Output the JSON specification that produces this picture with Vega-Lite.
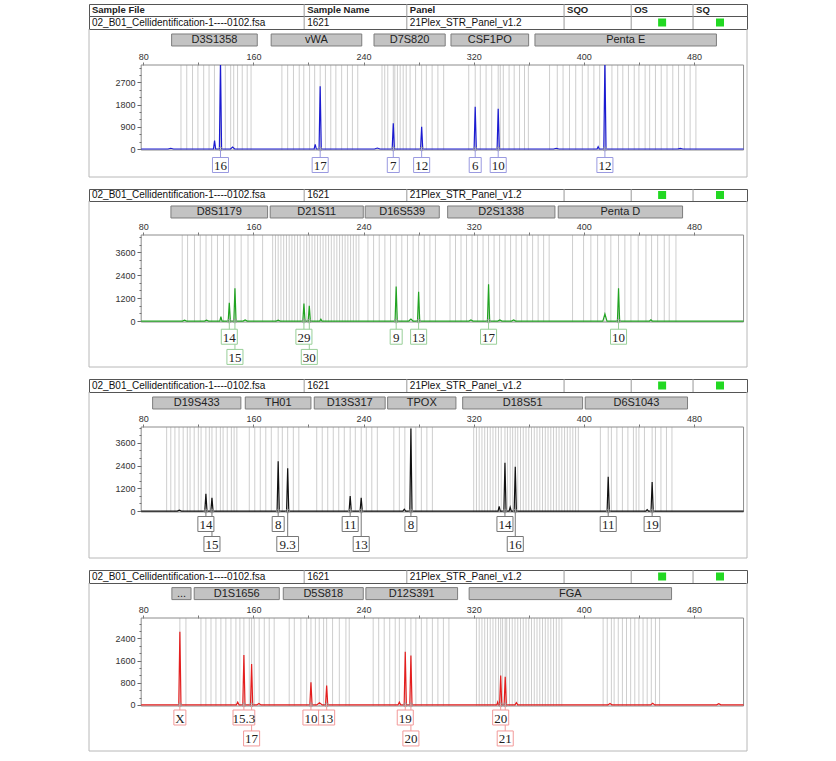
{
"$schema":"https://vega.github.io/schema/vega-lite/v6.json",
"background":"white",
"padding":{"left":88,"top":3,"right":5,"bottom":5},
"autosize":{"type":"pad"},
"config":{"font":"Liberation Sans","view":{"stroke":null}},
"datasets":{
"cols":[
{"col":"Sample File","start":0,"end":0.327,"val":"02_B01_Cellidentification-1----0102.fsa"},
{"col":"Sample Name","start":0.327,"end":0.483,"val":"1621"},
{"col":"Panel","start":0.483,"end":0.722,"val":"21Plex_STR_Panel_v1.2"},
{"col":"SQO","start":0.722,"end":0.824,"val":""},
{"col":"OS","start":0.824,"end":0.918,"val":"","flag":"pass"},
{"col":"SQ","start":0.918,"end":1,"val":"","flag":"pass"}],
"loci":[
{"p":1,"name":"D3S1358","start":100.6,"end":162.8},{"p":1,"name":"vWA","start":172.9,"end":238.7},{"p":1,"name":"D7S820","start":247.6,"end":299.3},{"p":1,"name":"CSF1PO","start":303.5,"end":359.9},{"p":1,"name":"Penta E","start":364.5,"end":496.3},
{"p":2,"name":"D8S1179","start":100.1,"end":170.3},{"p":2,"name":"D21S11","start":172.2,"end":239.8},{"p":2,"name":"D16S539","start":241.2,"end":295},{"p":2,"name":"D2S1338","start":301.1,"end":379},{"p":2,"name":"Penta D","start":381.4,"end":471.7},
{"p":3,"name":"D19S433","start":86.8,"end":150.9},{"p":3,"name":"TH01","start":154.1,"end":201.8},{"p":3,"name":"D13S317","start":204.2,"end":255.7},{"p":3,"name":"TPOX","start":257.5,"end":307.1},{"p":3,"name":"D18S51","start":312,"end":399.1},{"p":3,"name":"D6S1043","start":401,"end":475.3},
{"p":4,"name":"...","start":100.8,"end":114.7},{"p":4,"name":"D1S1656","start":117,"end":178.8},{"p":4,"name":"D5S818","start":181.7,"end":239.8},{"p":4,"name":"D12S391","start":241.7,"end":308.3},{"p":4,"name":"FGA","start":316.7,"end":463.7}],
"alleles":[
{"p":1,"a":"16","x":136.1,"row":1},{"p":1,"a":"17","x":208.5,"row":1},{"p":1,"a":"7","x":261.6,"row":1},{"p":1,"a":"12","x":282.2,"row":1},{"p":1,"a":"6","x":321.1,"row":1},{"p":1,"a":"10","x":337.8,"row":1},{"p":1,"a":"12","x":415.3,"row":1},
{"p":2,"a":"14","x":142.5,"row":1},{"p":2,"a":"15","x":146.6,"row":2},{"p":2,"a":"29","x":196.7,"row":1},{"p":2,"a":"30","x":200.6,"row":2},{"p":2,"a":"9","x":263.7,"row":1},{"p":2,"a":"13","x":280,"row":1},{"p":2,"a":"17","x":330.8,"row":1},{"p":2,"a":"10","x":425.2,"row":1},
{"p":3,"a":"14","x":125.5,"row":1},{"p":3,"a":"15","x":129.9,"row":2},{"p":3,"a":"8","x":178,"row":1},{"p":3,"a":"9.3","x":184.9,"row":2},{"p":3,"a":"11","x":230.3,"row":1},{"p":3,"a":"13","x":238.3,"row":2},{"p":3,"a":"8","x":274.4,"row":1},{"p":3,"a":"14","x":342.7,"row":1},{"p":3,"a":"16","x":350.2,"row":2},{"p":3,"a":"11","x":417.7,"row":1},{"p":3,"a":"19","x":449.6,"row":1},
{"p":4,"a":"X","x":106.6,"row":1},{"p":4,"a":"15.3","x":153.1,"row":1},{"p":4,"a":"17","x":158.7,"row":2},{"p":4,"a":"10","x":201.8,"row":1},{"p":4,"a":"13","x":213.2,"row":1},{"p":4,"a":"19","x":270.3,"row":1},{"p":4,"a":"20","x":274.4,"row":2},{"p":4,"a":"20","x":339.6,"row":1},{"p":4,"a":"21","x":342.9,"row":2}],
"bins":[
{"p":1,"x":107.4},{"p":1,"x":111.6},{"p":1,"x":115.8},{"p":1,"x":119.7},{"p":1,"x":123.9},{"p":1,"x":127.8},{"p":1,"x":131.7},{"p":1,"x":136.1},{"p":1,"x":139.6},{"p":1,"x":143.5},{"p":1,"x":145.7},{"p":1,"x":148.5},{"p":1,"x":151.9},{"p":1,"x":155.5},{"p":1,"x":158.3},
{"p":1,"x":180.7},{"p":1,"x":184.9},{"p":1,"x":189.1},{"p":1,"x":193.3},{"p":1,"x":196.6},{"p":1,"x":200.8},{"p":1,"x":204.5},{"p":1,"x":208.5},{"p":1,"x":212.3},{"p":1,"x":216.2},{"p":1,"x":219.9},{"p":1,"x":224.1},{"p":1,"x":228.3},{"p":1,"x":231.9},{"p":1,"x":235.8},
{"p":1,"x":253.4},{"p":1,"x":255.4},{"p":1,"x":257.6},{"p":1,"x":261.6},{"p":1,"x":262.7},{"p":1,"x":264.6},{"p":1,"x":266.6},{"p":1,"x":268.8},{"p":1,"x":271},{"p":1,"x":273.8},{"p":1,"x":277.8},{"p":1,"x":282.2},{"p":1,"x":285.6},{"p":1,"x":289.8},{"p":1,"x":294},{"p":1,"x":298.2},
{"p":1,"x":316.4},{"p":1,"x":321.1},{"p":1,"x":324.8},{"p":1,"x":329},{"p":1,"x":333.1},{"p":1,"x":337.8},{"p":1,"x":339.3},{"p":1,"x":341.5},{"p":1,"x":345.7},{"p":1,"x":349.4},{"p":1,"x":353.3},{"p":1,"x":356.9},{"p":1,"x":359.7},
{"p":1,"x":375.1},{"p":1,"x":380.7},{"p":1,"x":384.9},{"p":1,"x":389.6},{"p":1,"x":394.1},{"p":1,"x":398.9},{"p":1,"x":403.1},{"p":1,"x":407.3},{"p":1,"x":411.5},{"p":1,"x":415.3},{"p":1,"x":420.4},{"p":1,"x":424.6},{"p":1,"x":428.3},{"p":1,"x":432.4},{"p":1,"x":436.6},{"p":1,"x":440},{"p":1,"x":444.5},{"p":1,"x":447.8},{"p":1,"x":452},{"p":1,"x":456.2},{"p":1,"x":460.4},{"p":1,"x":464.6},{"p":1,"x":468.8},{"p":1,"x":473},{"p":1,"x":477.2},{"p":1,"x":481.4},
{"p":2,"x":108.3},{"p":2,"x":112.2},{"p":2,"x":117.2},{"p":2,"x":121.4},{"p":2,"x":125.6},{"p":2,"x":129.7},{"p":2,"x":133.9},{"p":2,"x":138.3},{"p":2,"x":142.5},{"p":2,"x":146.6},{"p":2,"x":151.1},{"p":2,"x":156.1},{"p":2,"x":160.3},{"p":2,"x":166.7},
{"p":2,"x":174},{"p":2,"x":176},{"p":2,"x":178},{"p":2,"x":180},{"p":2,"x":182},{"p":2,"x":184},{"p":2,"x":186},{"p":2,"x":188},{"p":2,"x":190},{"p":2,"x":192},{"p":2,"x":194},{"p":2,"x":196.7},{"p":2,"x":198.7},{"p":2,"x":200.6},{"p":2,"x":202.6},{"p":2,"x":204.6},{"p":2,"x":206.6},{"p":2,"x":208.6},{"p":2,"x":210.6},{"p":2,"x":212.6},{"p":2,"x":214.6},{"p":2,"x":216.6},{"p":2,"x":218.6},{"p":2,"x":220.6},{"p":2,"x":222.6},{"p":2,"x":224.6},{"p":2,"x":226.6},{"p":2,"x":228.6},{"p":2,"x":230.6},{"p":2,"x":232.6},{"p":2,"x":234.6},{"p":2,"x":236.6},
{"p":2,"x":243.2},{"p":2,"x":247.3},{"p":2,"x":251.4},{"p":2,"x":255.5},{"p":2,"x":259.6},{"p":2,"x":263.7},{"p":2,"x":267.8},{"p":2,"x":271.9},{"p":2,"x":276},{"p":2,"x":280},{"p":2,"x":284.1},{"p":2,"x":288.2},{"p":2,"x":292.2},
{"p":2,"x":302.8},{"p":2,"x":306.8},{"p":2,"x":310.8},{"p":2,"x":314.8},{"p":2,"x":318.8},{"p":2,"x":322.8},{"p":2,"x":326.8},{"p":2,"x":330.8},{"p":2,"x":334.8},{"p":2,"x":338.8},{"p":2,"x":342.8},{"p":2,"x":346.8},{"p":2,"x":350.8},{"p":2,"x":354.8},{"p":2,"x":358.8},{"p":2,"x":362.8},{"p":2,"x":366.8},{"p":2,"x":370.8},{"p":2,"x":374.8},
{"p":2,"x":391.8},{"p":2,"x":399.8},{"p":2,"x":405.1},{"p":2,"x":410},{"p":2,"x":415.3},{"p":2,"x":419.6},{"p":2,"x":425.2},{"p":2,"x":429.8},{"p":2,"x":434.2},{"p":2,"x":439.5},{"p":2,"x":445.1},{"p":2,"x":449.2},{"p":2,"x":453.6},{"p":2,"x":458.4},{"p":2,"x":462},{"p":2,"x":466.9},
{"p":3,"x":97},{"p":3,"x":100},{"p":3,"x":103},{"p":3,"x":106},{"p":3,"x":109},{"p":3,"x":112},{"p":3,"x":114},{"p":3,"x":117},{"p":3,"x":120},{"p":3,"x":122},{"p":3,"x":125.5},{"p":3,"x":128},{"p":3,"x":129.9},{"p":3,"x":133},{"p":3,"x":136},{"p":3,"x":138},{"p":3,"x":141},{"p":3,"x":144},{"p":3,"x":146},{"p":3,"x":148},
{"p":3,"x":157},{"p":3,"x":161},{"p":3,"x":165},{"p":3,"x":169},{"p":3,"x":173},{"p":3,"x":178},{"p":3,"x":181},{"p":3,"x":184.9},{"p":3,"x":189},{"p":3,"x":193},
{"p":3,"x":206},{"p":3,"x":210},{"p":3,"x":214},{"p":3,"x":218},{"p":3,"x":222},{"p":3,"x":226},{"p":3,"x":230.3},{"p":3,"x":234},{"p":3,"x":238.3},{"p":3,"x":242},{"p":3,"x":246},{"p":3,"x":250},
{"p":3,"x":262},{"p":3,"x":266},{"p":3,"x":270},{"p":3,"x":274.4},{"p":3,"x":278},{"p":3,"x":282},{"p":3,"x":286},{"p":3,"x":290},
{"p":3,"x":320},{"p":3,"x":322},{"p":3,"x":324},{"p":3,"x":326},{"p":3,"x":328},{"p":3,"x":330},{"p":3,"x":332},{"p":3,"x":334},{"p":3,"x":336},{"p":3,"x":338},{"p":3,"x":340},{"p":3,"x":342.7},{"p":3,"x":344.5},{"p":3,"x":346.5},{"p":3,"x":348.3},{"p":3,"x":350.2},{"p":3,"x":352},{"p":3,"x":354},{"p":3,"x":356},{"p":3,"x":358},{"p":3,"x":360},{"p":3,"x":362},{"p":3,"x":364},{"p":3,"x":366},{"p":3,"x":368},{"p":3,"x":370},{"p":3,"x":372},{"p":3,"x":374},{"p":3,"x":376},{"p":3,"x":378},{"p":3,"x":380},{"p":3,"x":382},{"p":3,"x":384},{"p":3,"x":386},{"p":3,"x":388},{"p":3,"x":390},{"p":3,"x":392},{"p":3,"x":394},{"p":3,"x":396},
{"p":3,"x":412},{"p":3,"x":417.7},{"p":3,"x":420},{"p":3,"x":424},{"p":3,"x":428},{"p":3,"x":432},{"p":3,"x":436},{"p":3,"x":438},{"p":3,"x":440},{"p":3,"x":444},{"p":3,"x":449.6},{"p":3,"x":452},{"p":3,"x":456},{"p":3,"x":460},{"p":3,"x":464},
{"p":4,"x":106.6},{"p":4,"x":111},
{"p":4,"x":121.9},{"p":4,"x":125.5},{"p":4,"x":129.2},{"p":4,"x":132.8},{"p":4,"x":136.4},{"p":4,"x":140},{"p":4,"x":143.7},{"p":4,"x":147.3},{"p":4,"x":150.2},{"p":4,"x":153.1},{"p":4,"x":157},{"p":4,"x":158.7},{"p":4,"x":160.6},{"p":4,"x":164.2},{"p":4,"x":167.9},{"p":4,"x":171.5},{"p":4,"x":175.1},
{"p":4,"x":186},{"p":4,"x":189.7},{"p":4,"x":194.5},{"p":4,"x":198.7},{"p":4,"x":201.8},{"p":4,"x":205},{"p":4,"x":207.8},{"p":4,"x":211},{"p":4,"x":213.2},{"p":4,"x":217.5},{"p":4,"x":222.4},{"p":4,"x":227.2},{"p":4,"x":229.6},
{"p":4,"x":247},{"p":4,"x":251},{"p":4,"x":255},{"p":4,"x":259},{"p":4,"x":263},{"p":4,"x":266},{"p":4,"x":270.3},{"p":4,"x":274.4},{"p":4,"x":278},{"p":4,"x":282},{"p":4,"x":286},{"p":4,"x":290},{"p":4,"x":294},{"p":4,"x":298},{"p":4,"x":302},
{"p":4,"x":322},{"p":4,"x":324},{"p":4,"x":326},{"p":4,"x":328},{"p":4,"x":330},{"p":4,"x":332},{"p":4,"x":334},{"p":4,"x":336},{"p":4,"x":338},{"p":4,"x":339.6},{"p":4,"x":341},{"p":4,"x":342.9},{"p":4,"x":344},{"p":4,"x":346},{"p":4,"x":348},{"p":4,"x":350},{"p":4,"x":352},{"p":4,"x":354},{"p":4,"x":356},{"p":4,"x":358},{"p":4,"x":360},{"p":4,"x":362},{"p":4,"x":364},{"p":4,"x":366},{"p":4,"x":368},{"p":4,"x":370},{"p":4,"x":372},{"p":4,"x":374},{"p":4,"x":376},{"p":4,"x":378},{"p":4,"x":380},{"p":4,"x":382},{"p":4,"x":384},
{"p":4,"x":414},{"p":4,"x":417},{"p":4,"x":420},{"p":4,"x":422},{"p":4,"x":425},{"p":4,"x":428},{"p":4,"x":431},{"p":4,"x":434},{"p":4,"x":437},{"p":4,"x":440},{"p":4,"x":443},{"p":4,"x":446},{"p":4,"x":449},{"p":4,"x":452},{"p":4,"x":455}],
"trace":[
{"p":1,"x":78.5,"y":0},{"p":1,"x":98,"y":0},{"p":1,"x":100,"y":30},{"p":1,"x":102,"y":0},{"p":1,"x":131,"y":0},{"p":1,"x":131.8,"y":340},{"p":1,"x":132.6,"y":0},{"p":1,"x":135.3,"y":0},{"p":1,"x":136.1,"y":3600},{"p":1,"x":136.9,"y":0},{"p":1,"x":143.4,"y":0},{"p":1,"x":144.9,"y":80},{"p":1,"x":146.4,"y":0},{"p":1,"x":204.1,"y":0},{"p":1,"x":204.9,"y":190},{"p":1,"x":205.7,"y":0},{"p":1,"x":207.7,"y":0},{"p":1,"x":208.5,"y":2550},{"p":1,"x":209.3,"y":0},{"p":1,"x":248,"y":0},{"p":1,"x":250,"y":40},{"p":1,"x":252,"y":0},{"p":1,"x":260.8,"y":0},{"p":1,"x":261.6,"y":1040},{"p":1,"x":262.4,"y":0},{"p":1,"x":281.4,"y":0},{"p":1,"x":282.2,"y":900},{"p":1,"x":283,"y":0},{"p":1,"x":320.3,"y":0},{"p":1,"x":321.1,"y":1715},{"p":1,"x":321.9,"y":0},{"p":1,"x":337,"y":0},{"p":1,"x":337.8,"y":1635},{"p":1,"x":338.6,"y":0},{"p":1,"x":378,"y":0},{"p":1,"x":380,"y":30},{"p":1,"x":382,"y":0},{"p":1,"x":409.6,"y":0},{"p":1,"x":410.4,"y":95},{"p":1,"x":411.2,"y":0},{"p":1,"x":414.5,"y":0},{"p":1,"x":415.3,"y":3600},{"p":1,"x":416.1,"y":0},{"p":1,"x":468,"y":0},{"p":1,"x":470,"y":25},{"p":1,"x":472,"y":0},{"p":1,"x":516,"y":0},
{"p":2,"x":78.5,"y":0},{"p":2,"x":108.5,"y":0},{"p":2,"x":110,"y":50},{"p":2,"x":111.5,"y":0},{"p":2,"x":124.5,"y":0},{"p":2,"x":126,"y":50},{"p":2,"x":127.5,"y":0},{"p":2,"x":135.6,"y":0},{"p":2,"x":136.4,"y":225},{"p":2,"x":137.2,"y":0},{"p":2,"x":141.7,"y":0},{"p":2,"x":142.5,"y":960},{"p":2,"x":143.3,"y":0},{"p":2,"x":145.8,"y":0},{"p":2,"x":146.6,"y":1710},{"p":2,"x":147.4,"y":0},{"p":2,"x":152.5,"y":0},{"p":2,"x":154,"y":60},{"p":2,"x":155.5,"y":0},{"p":2,"x":176.5,"y":0},{"p":2,"x":178,"y":50},{"p":2,"x":179.5,"y":0},{"p":2,"x":195.9,"y":0},{"p":2,"x":196.7,"y":910},{"p":2,"x":197.5,"y":0},{"p":2,"x":199.8,"y":0},{"p":2,"x":200.6,"y":800},{"p":2,"x":201.4,"y":0},{"p":2,"x":208.2,"y":0},{"p":2,"x":209,"y":100},{"p":2,"x":209.8,"y":0},{"p":2,"x":262.9,"y":0},{"p":2,"x":263.7,"y":1800},{"p":2,"x":264.5,"y":0},{"p":2,"x":272.9,"y":0},{"p":2,"x":274.4,"y":100},{"p":2,"x":275.9,"y":0},{"p":2,"x":279.2,"y":0},{"p":2,"x":280,"y":1535},{"p":2,"x":280.8,"y":0},{"p":2,"x":316.5,"y":0},{"p":2,"x":318,"y":60},{"p":2,"x":319.5,"y":0},{"p":2,"x":330,"y":0},{"p":2,"x":330.8,"y":1920},{"p":2,"x":331.6,"y":0},{"p":2,"x":337.5,"y":0},{"p":2,"x":339,"y":60},{"p":2,"x":340.5,"y":0},{"p":2,"x":347.5,"y":0},{"p":2,"x":349,"y":60},{"p":2,"x":350.5,"y":0},{"p":2,"x":413.8,"y":0},{"p":2,"x":415.3,"y":370},{"p":2,"x":416.8,"y":0},{"p":2,"x":424.4,"y":0},{"p":2,"x":425.2,"y":1710},{"p":2,"x":426,"y":0},{"p":2,"x":447.7,"y":0},{"p":2,"x":448.7,"y":60},{"p":2,"x":449.7,"y":0},{"p":2,"x":516,"y":0},
{"p":3,"x":78.5,"y":0},{"p":3,"x":104.7,"y":0},{"p":3,"x":106.2,"y":50},{"p":3,"x":107.7,"y":0},{"p":3,"x":124.7,"y":0},{"p":3,"x":125.5,"y":915},{"p":3,"x":126.3,"y":0},{"p":3,"x":129.1,"y":0},{"p":3,"x":129.9,"y":705},{"p":3,"x":130.7,"y":0},{"p":3,"x":177.2,"y":0},{"p":3,"x":178,"y":2630},{"p":3,"x":178.8,"y":0},{"p":3,"x":184.1,"y":0},{"p":3,"x":184.9,"y":2250},{"p":3,"x":185.7,"y":0},{"p":3,"x":229.5,"y":0},{"p":3,"x":230.3,"y":790},{"p":3,"x":231.1,"y":0},{"p":3,"x":237.5,"y":0},{"p":3,"x":238.3,"y":705},{"p":3,"x":239.1,"y":0},{"p":3,"x":268.6,"y":0},{"p":3,"x":269.6,"y":100},{"p":3,"x":270.6,"y":0},{"p":3,"x":273.6,"y":0},{"p":3,"x":274.4,"y":4350},{"p":3,"x":275.2,"y":0},{"p":3,"x":337.7,"y":0},{"p":3,"x":338.5,"y":250},{"p":3,"x":339.3,"y":0},{"p":3,"x":341.9,"y":0},{"p":3,"x":342.7,"y":2550},{"p":3,"x":343.5,"y":0},{"p":3,"x":345.7,"y":0},{"p":3,"x":346.5,"y":200},{"p":3,"x":347.3,"y":0},{"p":3,"x":349.4,"y":0},{"p":3,"x":350.2,"y":2340},{"p":3,"x":351,"y":0},{"p":3,"x":416.9,"y":0},{"p":3,"x":417.7,"y":1810},{"p":3,"x":418.5,"y":0},{"p":3,"x":445,"y":0},{"p":3,"x":446,"y":80},{"p":3,"x":447,"y":0},{"p":3,"x":448.8,"y":0},{"p":3,"x":449.6,"y":1530},{"p":3,"x":450.4,"y":0},{"p":3,"x":516,"y":0},
{"p":4,"x":78.5,"y":0},{"p":4,"x":105.8,"y":0},{"p":4,"x":106.6,"y":2640},{"p":4,"x":107.4,"y":0},{"p":4,"x":147.6,"y":0},{"p":4,"x":148.6,"y":100},{"p":4,"x":149.6,"y":0},{"p":4,"x":152.3,"y":0},{"p":4,"x":153.1,"y":1800},{"p":4,"x":153.9,"y":0},{"p":4,"x":157.9,"y":0},{"p":4,"x":158.7,"y":1480},{"p":4,"x":159.5,"y":0},{"p":4,"x":162.5,"y":0},{"p":4,"x":164,"y":50},{"p":4,"x":165.5,"y":0},{"p":4,"x":201,"y":0},{"p":4,"x":201.8,"y":815},{"p":4,"x":202.6,"y":0},{"p":4,"x":206,"y":0},{"p":4,"x":208,"y":80},{"p":4,"x":210,"y":0},{"p":4,"x":212.4,"y":0},{"p":4,"x":213.2,"y":700},{"p":4,"x":214,"y":0},{"p":4,"x":265,"y":0},{"p":4,"x":266,"y":100},{"p":4,"x":267,"y":0},{"p":4,"x":269.5,"y":0},{"p":4,"x":270.3,"y":1920},{"p":4,"x":271.1,"y":0},{"p":4,"x":273.6,"y":0},{"p":4,"x":274.4,"y":1780},{"p":4,"x":275.2,"y":0},{"p":4,"x":336.8,"y":0},{"p":4,"x":337.4,"y":100},{"p":4,"x":338,"y":0},{"p":4,"x":338.8,"y":0},{"p":4,"x":339.6,"y":1060},{"p":4,"x":340.4,"y":0},{"p":4,"x":342.1,"y":0},{"p":4,"x":342.9,"y":1020},{"p":4,"x":343.7,"y":0},{"p":4,"x":350,"y":0},{"p":4,"x":351,"y":80},{"p":4,"x":352,"y":0},{"p":4,"x":417.5,"y":0},{"p":4,"x":419,"y":50},{"p":4,"x":420.5,"y":0},{"p":4,"x":448.5,"y":0},{"p":4,"x":450,"y":60},{"p":4,"x":451.5,"y":0},{"p":4,"x":496.5,"y":0},{"p":4,"x":498,"y":40},{"p":4,"x":499.5,"y":0},{"p":4,"x":516,"y":0}]
},
"spacing":0,
"bounds":"flush",
"vconcat":[
 {"width":658,"height":12,"view":{"stroke":"#555"},"data":{"name":"cols"},"layer":[
  {"transform":[{"filter":"datum.start > 0"}],"mark":{"type":"rule","color":"#999"},"encoding":{"x":{"field":"start","type":"quantitative","scale":{"domain":[0,1],"nice":false,"zero":false},"axis":null}}},
  {"mark":{"type":"text","align":"left","dx":3,"fontSize":9.5,"fontWeight":"bold","color":"#222"},"encoding":{"x":{"field":"start","type":"quantitative","scale":{"domain":[0,1],"nice":false,"zero":false},"axis":null},"text":{"field":"col"}}}]},
 {"width":658,"height":13,"view":{"stroke":"#555"},"data":{"name":"cols"},"layer":[
  {"transform":[{"filter":"datum.start > 0"}],"mark":{"type":"rule","color":"#999"},"encoding":{"x":{"field":"start","type":"quantitative","scale":{"domain":[0,1],"nice":false,"zero":false},"axis":null}}},
  {"mark":{"type":"text","align":"left","dx":3,"fontSize":10,"color":"#111"},"encoding":{"x":{"field":"start","type":"quantitative","scale":{"domain":[0,1],"nice":false,"zero":false},"axis":null},"text":{"field":"val"}}},
  {"transform":[{"filter":"datum.flag == 'pass'"},{"fold":["start","end"],"as":["edge","pos"]}],"mark":{"type":"square","color":"#22d822","filled":true,"opacity":1,"size":64},"encoding":{"x":{"field":"pos","aggregate":"mean","type":"quantitative","scale":{"domain":[0,1],"nice":false,"zero":false},"axis":null},"detail":{"field":"col"}}}]},
 {"width":658,"height":36,"layer":[
  {"data":{"values":[{}]},"mark":{"type":"rule","color":"#b8b8b8"},"encoding":{"x":{"datum":40.6,"type":"quantitative","scale":{"domain":[40.6,518.5],"nice":false,"zero":false},"axis":null}}},
  {"data":{"values":[{}]},"mark":{"type":"rule","color":"#b8b8b8"},"encoding":{"x":{"datum":518.5,"type":"quantitative","axis":null}}},
  {"data":{"name":"loci"},"transform":[{"filter":"datum.p == 1"}],"mark":{"type":"bar","fill":"#c3c3c3","stroke":"#7d7d7d","strokeWidth":1},"encoding":{"x":{"field":"start","type":"quantitative","axis":null},"x2":{"field":"end"},"y":{"field":"p","type":"nominal","scale":{"type":"band","paddingInner":0,"paddingOuter":1.0,"align":0.208},"axis":null}}},
  {"data":{"name":"loci"},"transform":[{"filter":"datum.p == 1"},{"fold":["start","end"],"as":["edge","pos"]}],"mark":{"type":"text","fontSize":11,"color":"#222"},"encoding":{"x":{"field":"pos","aggregate":"mean","type":"quantitative","axis":null},"y":{"field":"p","type":"nominal","axis":null},"text":{"field":"name"}}}]},
 {"width":658,"height":85,"layer":[
  {"data":{"values":[{}]},"mark":{"type":"rule","color":"#b8b8b8"},"encoding":{"x":{"datum":40.6,"type":"quantitative","scale":{"domain":[40.6,518.5],"nice":false,"zero":false},"axis":{"orient":"top","values":[80,120,160,200,240,280,320,360,400,440,480],"labelExpr":"datum.value % 80 == 0 ? datum.label : ''","format":"d","domain":false,"grid":false,"tickSize":3,"tickColor":"#777","labelFontSize":9,"labelColor":"#333","labelPadding":1,"title":null,"labelFlush":false,"labelOverlap":false}}}},
  {"data":{"values":[{}]},"mark":{"type":"rule","color":"#b8b8b8"},"encoding":{"x":{"datum":518.5,"type":"quantitative","axis":{"orient":"top","values":[80,120,160,200,240,280,320,360,400,440,480],"labelExpr":"datum.value % 80 == 0 ? datum.label : ''","format":"d","domain":false,"grid":false,"tickSize":3,"tickColor":"#777","labelFontSize":9,"labelColor":"#333","labelPadding":1,"title":null,"labelFlush":false,"labelOverlap":false}}}},
  {"data":{"name":"bins"},"transform":[{"filter":"datum.p == 1"}],"mark":{"type":"rule","color":"#cecece","strokeWidth":1},"encoding":{"x":{"field":"x","type":"quantitative","axis":{"orient":"top","values":[80,120,160,200,240,280,320,360,400,440,480],"labelExpr":"datum.value % 80 == 0 ? datum.label : ''","format":"d","domain":false,"grid":false,"tickSize":3,"tickColor":"#777","labelFontSize":9,"labelColor":"#333","labelPadding":1,"title":null,"labelFlush":false,"labelOverlap":false}}}},
  {"data":{"name":"trace"},"transform":[{"filter":"datum.p == 1"}],"mark":{"type":"rect","fillOpacity":0,"stroke":"#8c8c8c","strokeWidth":1},"encoding":{"x":{"field":"x","aggregate":"min","type":"quantitative","axis":{"orient":"top","values":[80,120,160,200,240,280,320,360,400,440,480],"labelExpr":"datum.value % 80 == 0 ? datum.label : ''","format":"d","domain":false,"grid":false,"tickSize":3,"tickColor":"#777","labelFontSize":9,"labelColor":"#333","labelPadding":1,"title":null,"labelFlush":false,"labelOverlap":false}},"x2":{"field":"x","aggregate":"max"}}},
  {"data":{"name":"trace"},"transform":[{"filter":"datum.p == 1"}],"mark":{"type":"line","color":"#1b1bd1","strokeWidth":1.2,"clip":true},"encoding":{"x":{"field":"x","type":"quantitative","axis":{"orient":"top","values":[80,120,160,200,240,280,320,360,400,440,480],"labelExpr":"datum.value % 80 == 0 ? datum.label : ''","format":"d","domain":false,"grid":false,"tickSize":3,"tickColor":"#777","labelFontSize":9,"labelColor":"#333","labelPadding":1,"title":null,"labelFlush":false,"labelOverlap":false}},"y":{"field":"y","type":"quantitative","scale":{"domain":[-40,3410],"nice":false,"zero":false},"axis":{"orient":"left","offset":-52,"values":[0,300,600,900,1200,1500,1800,2100,2400,2700,3000,3300],"labelExpr":"datum.value % 900 == 0 ? datum.label : ''","format":"d","domain":false,"grid":false,"tickSize":{"condition":{"test":"datum.value % 900 == 0","value":4},"value":2},"tickColor":"#666","labelFontSize":9,"labelColor":"#333","labelPadding":2,"title":null,"labelOverlap":false,"labelFlush":false}}}},
  {"data":{"name":"alleles"},"transform":[{"filter":"datum.p == 1"}],"mark":{"type":"point","shape":"circle","size":14,"filled":false,"stroke":"#999","strokeWidth":0.8,"opacity":1},"encoding":{"x":{"field":"x","type":"quantitative","axis":{"orient":"top","values":[80,120,160,200,240,280,320,360,400,440,480],"labelExpr":"datum.value % 80 == 0 ? datum.label : ''","format":"d","domain":false,"grid":false,"tickSize":3,"tickColor":"#777","labelFontSize":9,"labelColor":"#333","labelPadding":1,"title":null,"labelFlush":false,"labelOverlap":false}},"y":{"datum":0,"type":"quantitative","axis":{"orient":"left","offset":-52,"values":[0,300,600,900,1200,1500,1800,2100,2400,2700,3000,3300],"labelExpr":"datum.value % 900 == 0 ? datum.label : ''","format":"d","domain":false,"grid":false,"tickSize":{"condition":{"test":"datum.value % 900 == 0","value":4},"value":2},"tickColor":"#666","labelFontSize":9,"labelColor":"#333","labelPadding":2,"title":null,"labelOverlap":false,"labelFlush":false}}}}]},
 {"width":658,"height":27,"layer":[
  {"data":{"values":[{}]},"mark":{"type":"rule","color":"#b8b8b8"},"encoding":{"x":{"datum":40.6,"type":"quantitative","scale":{"domain":[40.6,518.5],"nice":false,"zero":false},"axis":null}}},
  {"data":{"values":[{}]},"mark":{"type":"rule","color":"#b8b8b8"},"encoding":{"x":{"datum":518.5,"type":"quantitative","axis":null}}},
  {"data":{"values":[{}]},"mark":{"type":"rule","color":"#b8b8b8"},"encoding":{"y":{"datum":1.6,"type":"quantitative","scale":{"domain":[0.25,1.6],"reverse":true,"nice":false,"zero":false},"axis":null}}},
  {"data":{"name":"alleles"},"transform":[{"filter":"datum.p == 1"}],"mark":{"type":"rule","color":"#9a9ae0","strokeWidth":1},"encoding":{"x":{"field":"x","type":"quantitative","axis":null},"y":{"field":"row","type":"quantitative","axis":null},"y2":{"datum":0.25}}},
  {"data":{"name":"alleles"},"transform":[{"filter":"datum.p == 1"}],"mark":{"type":"point","filled":true,"fill":"white","stroke":"#9a9ae0","strokeWidth":1,"opacity":1,"size":225},"encoding":{"x":{"field":"x","type":"quantitative","axis":null},"y":{"field":"row","type":"quantitative","axis":null},"shape":{"condition":[{"test":"length(datum.a) >= 3","value":"M-1.45,-1H1.45V1H-1.45Z"},{"test":"length(datum.a) == 2","value":"M-1.07,-1H1.07V1H-1.07Z"}],"value":"M-0.8,-1H0.8V1H-0.8Z"}}},
  {"data":{"name":"alleles"},"transform":[{"filter":"datum.p == 1"}],"mark":{"type":"text","font":"Liberation Serif","fontSize":13,"color":"#222","dy":1},"encoding":{"x":{"field":"x","type":"quantitative","axis":null},"y":{"field":"row","type":"quantitative","axis":null},"text":{"field":"a"}}}]},
 {"width":658,"height":12,"data":{"values":[{}]},"mark":{"type":"text"},"encoding":{"text":{"value":""}}},
 {"width":658,"height":12,"view":{"stroke":"#555"},"data":{"name":"cols"},"layer":[
  {"transform":[{"filter":"datum.start > 0"}],"mark":{"type":"rule","color":"#999"},"encoding":{"x":{"field":"start","type":"quantitative","scale":{"domain":[0,1],"nice":false,"zero":false},"axis":null}}},
  {"mark":{"type":"text","align":"left","dx":3,"fontSize":10,"color":"#111"},"encoding":{"x":{"field":"start","type":"quantitative","scale":{"domain":[0,1],"nice":false,"zero":false},"axis":null},"text":{"field":"val"}}},
  {"transform":[{"filter":"datum.flag == 'pass'"},{"fold":["start","end"],"as":["edge","pos"]}],"mark":{"type":"square","color":"#22d822","filled":true,"opacity":1,"size":64},"encoding":{"x":{"field":"pos","aggregate":"mean","type":"quantitative","scale":{"domain":[0,1],"nice":false,"zero":false},"axis":null},"detail":{"field":"col"}}}]},
 {"width":658,"height":34,"layer":[
  {"data":{"values":[{}]},"mark":{"type":"rule","color":"#b8b8b8"},"encoding":{"x":{"datum":40.6,"type":"quantitative","scale":{"domain":[40.6,518.5],"nice":false,"zero":false},"axis":null}}},
  {"data":{"values":[{}]},"mark":{"type":"rule","color":"#b8b8b8"},"encoding":{"x":{"datum":518.5,"type":"quantitative","axis":null}}},
  {"data":{"name":"loci"},"transform":[{"filter":"datum.p == 2"}],"mark":{"type":"bar","fill":"#c3c3c3","stroke":"#7d7d7d","strokeWidth":1},"encoding":{"x":{"field":"start","type":"quantitative","axis":null},"x2":{"field":"end"},"y":{"field":"p","type":"nominal","scale":{"type":"band","paddingInner":0,"paddingOuter":0.917,"align":0.227},"axis":null}}},
  {"data":{"name":"loci"},"transform":[{"filter":"datum.p == 2"},{"fold":["start","end"],"as":["edge","pos"]}],"mark":{"type":"text","fontSize":11,"color":"#222"},"encoding":{"x":{"field":"pos","aggregate":"mean","type":"quantitative","axis":null},"y":{"field":"p","type":"nominal","axis":null},"text":{"field":"name"}}}]},
 {"width":658,"height":87,"layer":[
  {"data":{"values":[{}]},"mark":{"type":"rule","color":"#b8b8b8"},"encoding":{"x":{"datum":40.6,"type":"quantitative","scale":{"domain":[40.6,518.5],"nice":false,"zero":false},"axis":{"orient":"top","values":[80,120,160,200,240,280,320,360,400,440,480],"labelExpr":"datum.value % 80 == 0 ? datum.label : ''","format":"d","domain":false,"grid":false,"tickSize":3,"tickColor":"#777","labelFontSize":9,"labelColor":"#333","labelPadding":1,"title":null,"labelFlush":false,"labelOverlap":false}}}},
  {"data":{"values":[{}]},"mark":{"type":"rule","color":"#b8b8b8"},"encoding":{"x":{"datum":518.5,"type":"quantitative","axis":{"orient":"top","values":[80,120,160,200,240,280,320,360,400,440,480],"labelExpr":"datum.value % 80 == 0 ? datum.label : ''","format":"d","domain":false,"grid":false,"tickSize":3,"tickColor":"#777","labelFontSize":9,"labelColor":"#333","labelPadding":1,"title":null,"labelFlush":false,"labelOverlap":false}}}},
  {"data":{"name":"bins"},"transform":[{"filter":"datum.p == 2"}],"mark":{"type":"rule","color":"#cecece","strokeWidth":1},"encoding":{"x":{"field":"x","type":"quantitative","axis":{"orient":"top","values":[80,120,160,200,240,280,320,360,400,440,480],"labelExpr":"datum.value % 80 == 0 ? datum.label : ''","format":"d","domain":false,"grid":false,"tickSize":3,"tickColor":"#777","labelFontSize":9,"labelColor":"#333","labelPadding":1,"title":null,"labelFlush":false,"labelOverlap":false}}}},
  {"data":{"name":"trace"},"transform":[{"filter":"datum.p == 2"}],"mark":{"type":"rect","fillOpacity":0,"stroke":"#8c8c8c","strokeWidth":1},"encoding":{"x":{"field":"x","aggregate":"min","type":"quantitative","axis":{"orient":"top","values":[80,120,160,200,240,280,320,360,400,440,480],"labelExpr":"datum.value % 80 == 0 ? datum.label : ''","format":"d","domain":false,"grid":false,"tickSize":3,"tickColor":"#777","labelFontSize":9,"labelColor":"#333","labelPadding":1,"title":null,"labelFlush":false,"labelOverlap":false}},"x2":{"field":"x","aggregate":"max"}}},
  {"data":{"name":"trace"},"transform":[{"filter":"datum.p == 2"}],"mark":{"type":"line","color":"#22a322","strokeWidth":1.2,"clip":true},"encoding":{"x":{"field":"x","type":"quantitative","axis":{"orient":"top","values":[80,120,160,200,240,280,320,360,400,440,480],"labelExpr":"datum.value % 80 == 0 ? datum.label : ''","format":"d","domain":false,"grid":false,"tickSize":3,"tickColor":"#777","labelFontSize":9,"labelColor":"#333","labelPadding":1,"title":null,"labelFlush":false,"labelOverlap":false}},"y":{"field":"y","type":"quantitative","scale":{"domain":[-50,4500],"nice":false,"zero":false},"axis":{"orient":"left","offset":-52,"values":[0,400,800,1200,1600,2000,2400,2800,3200,3600,4000,4400],"labelExpr":"datum.value % 1200 == 0 ? datum.label : ''","format":"d","domain":false,"grid":false,"tickSize":{"condition":{"test":"datum.value % 1200 == 0","value":4},"value":2},"tickColor":"#666","labelFontSize":9,"labelColor":"#333","labelPadding":2,"title":null,"labelOverlap":false,"labelFlush":false}}}},
  {"data":{"name":"alleles"},"transform":[{"filter":"datum.p == 2"}],"mark":{"type":"point","shape":"circle","size":14,"filled":false,"stroke":"#999","strokeWidth":0.8,"opacity":1},"encoding":{"x":{"field":"x","type":"quantitative","axis":{"orient":"top","values":[80,120,160,200,240,280,320,360,400,440,480],"labelExpr":"datum.value % 80 == 0 ? datum.label : ''","format":"d","domain":false,"grid":false,"tickSize":3,"tickColor":"#777","labelFontSize":9,"labelColor":"#333","labelPadding":1,"title":null,"labelFlush":false,"labelOverlap":false}},"y":{"datum":0,"type":"quantitative","axis":{"orient":"left","offset":-52,"values":[0,400,800,1200,1600,2000,2400,2800,3200,3600,4000,4400],"labelExpr":"datum.value % 1200 == 0 ? datum.label : ''","format":"d","domain":false,"grid":false,"tickSize":{"condition":{"test":"datum.value % 1200 == 0","value":4},"value":2},"tickColor":"#666","labelFontSize":9,"labelColor":"#333","labelPadding":2,"title":null,"labelOverlap":false,"labelFlush":false}}}}]},
 {"width":658,"height":45,"layer":[
  {"data":{"values":[{}]},"mark":{"type":"rule","color":"#b8b8b8"},"encoding":{"x":{"datum":40.6,"type":"quantitative","scale":{"domain":[40.6,518.5],"nice":false,"zero":false},"axis":null}}},
  {"data":{"values":[{}]},"mark":{"type":"rule","color":"#b8b8b8"},"encoding":{"x":{"datum":518.5,"type":"quantitative","axis":null}}},
  {"data":{"values":[{}]},"mark":{"type":"rule","color":"#b8b8b8"},"encoding":{"y":{"datum":2.5,"type":"quantitative","scale":{"domain":[0.27,2.5],"reverse":true,"nice":false,"zero":false},"axis":null}}},
  {"data":{"name":"alleles"},"transform":[{"filter":"datum.p == 2"}],"mark":{"type":"rule","color":"#98cf98","strokeWidth":1},"encoding":{"x":{"field":"x","type":"quantitative","axis":null},"y":{"field":"row","type":"quantitative","axis":null},"y2":{"datum":0.27}}},
  {"data":{"name":"alleles"},"transform":[{"filter":"datum.p == 2"}],"mark":{"type":"point","filled":true,"fill":"white","stroke":"#98cf98","strokeWidth":1,"opacity":1,"size":225},"encoding":{"x":{"field":"x","type":"quantitative","axis":null},"y":{"field":"row","type":"quantitative","axis":null},"shape":{"condition":[{"test":"length(datum.a) >= 3","value":"M-1.45,-1H1.45V1H-1.45Z"},{"test":"length(datum.a) == 2","value":"M-1.07,-1H1.07V1H-1.07Z"}],"value":"M-0.8,-1H0.8V1H-0.8Z"}}},
  {"data":{"name":"alleles"},"transform":[{"filter":"datum.p == 2"}],"mark":{"type":"text","font":"Liberation Serif","fontSize":13,"color":"#222","dy":1},"encoding":{"x":{"field":"x","type":"quantitative","axis":null},"y":{"field":"row","type":"quantitative","axis":null},"text":{"field":"a"}}}]},
 {"width":658,"height":12,"data":{"values":[{}]},"mark":{"type":"text"},"encoding":{"text":{"value":""}}},
 {"width":658,"height":13,"view":{"stroke":"#555"},"data":{"name":"cols"},"layer":[
  {"transform":[{"filter":"datum.start > 0"}],"mark":{"type":"rule","color":"#999"},"encoding":{"x":{"field":"start","type":"quantitative","scale":{"domain":[0,1],"nice":false,"zero":false},"axis":null}}},
  {"mark":{"type":"text","align":"left","dx":3,"fontSize":10,"color":"#111"},"encoding":{"x":{"field":"start","type":"quantitative","scale":{"domain":[0,1],"nice":false,"zero":false},"axis":null},"text":{"field":"val"}}},
  {"transform":[{"filter":"datum.flag == 'pass'"},{"fold":["start","end"],"as":["edge","pos"]}],"mark":{"type":"square","color":"#22d822","filled":true,"opacity":1,"size":64},"encoding":{"x":{"field":"pos","aggregate":"mean","type":"quantitative","scale":{"domain":[0,1],"nice":false,"zero":false},"axis":null},"detail":{"field":"col"}}}]},
 {"width":658,"height":35,"layer":[
  {"data":{"values":[{}]},"mark":{"type":"rule","color":"#b8b8b8"},"encoding":{"x":{"datum":40.6,"type":"quantitative","scale":{"domain":[40.6,518.5],"nice":false,"zero":false},"axis":null}}},
  {"data":{"values":[{}]},"mark":{"type":"rule","color":"#b8b8b8"},"encoding":{"x":{"datum":518.5,"type":"quantitative","axis":null}}},
  {"data":{"name":"loci"},"transform":[{"filter":"datum.p == 3"}],"mark":{"type":"bar","fill":"#c3c3c3","stroke":"#7d7d7d","strokeWidth":1},"encoding":{"x":{"field":"start","type":"quantitative","axis":null},"x2":{"field":"end"},"y":{"field":"p","type":"nominal","scale":{"type":"band","paddingInner":0,"paddingOuter":0.958,"align":0.217},"axis":null}}},
  {"data":{"name":"loci"},"transform":[{"filter":"datum.p == 3"},{"fold":["start","end"],"as":["edge","pos"]}],"mark":{"type":"text","fontSize":11,"color":"#222"},"encoding":{"x":{"field":"pos","aggregate":"mean","type":"quantitative","axis":null},"y":{"field":"p","type":"nominal","axis":null},"text":{"field":"name"}}}]},
 {"width":658,"height":85,"layer":[
  {"data":{"values":[{}]},"mark":{"type":"rule","color":"#b8b8b8"},"encoding":{"x":{"datum":40.6,"type":"quantitative","scale":{"domain":[40.6,518.5],"nice":false,"zero":false},"axis":{"orient":"top","values":[80,120,160,200,240,280,320,360,400,440,480],"labelExpr":"datum.value % 80 == 0 ? datum.label : ''","format":"d","domain":false,"grid":false,"tickSize":3,"tickColor":"#777","labelFontSize":9,"labelColor":"#333","labelPadding":1,"title":null,"labelFlush":false,"labelOverlap":false}}}},
  {"data":{"values":[{}]},"mark":{"type":"rule","color":"#b8b8b8"},"encoding":{"x":{"datum":518.5,"type":"quantitative","axis":{"orient":"top","values":[80,120,160,200,240,280,320,360,400,440,480],"labelExpr":"datum.value % 80 == 0 ? datum.label : ''","format":"d","domain":false,"grid":false,"tickSize":3,"tickColor":"#777","labelFontSize":9,"labelColor":"#333","labelPadding":1,"title":null,"labelFlush":false,"labelOverlap":false}}}},
  {"data":{"name":"bins"},"transform":[{"filter":"datum.p == 3"}],"mark":{"type":"rule","color":"#cecece","strokeWidth":1},"encoding":{"x":{"field":"x","type":"quantitative","axis":{"orient":"top","values":[80,120,160,200,240,280,320,360,400,440,480],"labelExpr":"datum.value % 80 == 0 ? datum.label : ''","format":"d","domain":false,"grid":false,"tickSize":3,"tickColor":"#777","labelFontSize":9,"labelColor":"#333","labelPadding":1,"title":null,"labelFlush":false,"labelOverlap":false}}}},
  {"data":{"name":"trace"},"transform":[{"filter":"datum.p == 3"}],"mark":{"type":"rect","fillOpacity":0,"stroke":"#8c8c8c","strokeWidth":1},"encoding":{"x":{"field":"x","aggregate":"min","type":"quantitative","axis":{"orient":"top","values":[80,120,160,200,240,280,320,360,400,440,480],"labelExpr":"datum.value % 80 == 0 ? datum.label : ''","format":"d","domain":false,"grid":false,"tickSize":3,"tickColor":"#777","labelFontSize":9,"labelColor":"#333","labelPadding":1,"title":null,"labelFlush":false,"labelOverlap":false}},"x2":{"field":"x","aggregate":"max"}}},
  {"data":{"name":"trace"},"transform":[{"filter":"datum.p == 3"}],"mark":{"type":"line","color":"#111111","strokeWidth":1.2,"clip":true},"encoding":{"x":{"field":"x","type":"quantitative","axis":{"orient":"top","values":[80,120,160,200,240,280,320,360,400,440,480],"labelExpr":"datum.value % 80 == 0 ? datum.label : ''","format":"d","domain":false,"grid":false,"tickSize":3,"tickColor":"#777","labelFontSize":9,"labelColor":"#333","labelPadding":1,"title":null,"labelFlush":false,"labelOverlap":false}},"y":{"field":"y","type":"quantitative","scale":{"domain":[-50,4430],"nice":false,"zero":false},"axis":{"orient":"left","offset":-52,"values":[0,400,800,1200,1600,2000,2400,2800,3200,3600,4000,4400],"labelExpr":"datum.value % 1200 == 0 ? datum.label : ''","format":"d","domain":false,"grid":false,"tickSize":{"condition":{"test":"datum.value % 1200 == 0","value":4},"value":2},"tickColor":"#666","labelFontSize":9,"labelColor":"#333","labelPadding":2,"title":null,"labelOverlap":false,"labelFlush":false}}}},
  {"data":{"name":"alleles"},"transform":[{"filter":"datum.p == 3"}],"mark":{"type":"point","shape":"circle","size":14,"filled":false,"stroke":"#999","strokeWidth":0.8,"opacity":1},"encoding":{"x":{"field":"x","type":"quantitative","axis":{"orient":"top","values":[80,120,160,200,240,280,320,360,400,440,480],"labelExpr":"datum.value % 80 == 0 ? datum.label : ''","format":"d","domain":false,"grid":false,"tickSize":3,"tickColor":"#777","labelFontSize":9,"labelColor":"#333","labelPadding":1,"title":null,"labelFlush":false,"labelOverlap":false}},"y":{"datum":0,"type":"quantitative","axis":{"orient":"left","offset":-52,"values":[0,400,800,1200,1600,2000,2400,2800,3200,3600,4000,4400],"labelExpr":"datum.value % 1200 == 0 ? datum.label : ''","format":"d","domain":false,"grid":false,"tickSize":{"condition":{"test":"datum.value % 1200 == 0","value":4},"value":2},"tickColor":"#666","labelFontSize":9,"labelColor":"#333","labelPadding":2,"title":null,"labelOverlap":false,"labelFlush":false}}}}]},
 {"width":658,"height":46,"layer":[
  {"data":{"values":[{}]},"mark":{"type":"rule","color":"#b8b8b8"},"encoding":{"x":{"datum":40.6,"type":"quantitative","scale":{"domain":[40.6,518.5],"nice":false,"zero":false},"axis":null}}},
  {"data":{"values":[{}]},"mark":{"type":"rule","color":"#b8b8b8"},"encoding":{"x":{"datum":518.5,"type":"quantitative","axis":null}}},
  {"data":{"values":[{}]},"mark":{"type":"rule","color":"#b8b8b8"},"encoding":{"y":{"datum":2.7,"type":"quantitative","scale":{"domain":[0.4,2.7],"reverse":true,"nice":false,"zero":false},"axis":null}}},
  {"data":{"name":"alleles"},"transform":[{"filter":"datum.p == 3"}],"mark":{"type":"rule","color":"#777777","strokeWidth":1},"encoding":{"x":{"field":"x","type":"quantitative","axis":null},"y":{"field":"row","type":"quantitative","axis":null},"y2":{"datum":0.4}}},
  {"data":{"name":"alleles"},"transform":[{"filter":"datum.p == 3"}],"mark":{"type":"point","filled":true,"fill":"white","stroke":"#777777","strokeWidth":1,"opacity":1,"size":225},"encoding":{"x":{"field":"x","type":"quantitative","axis":null},"y":{"field":"row","type":"quantitative","axis":null},"shape":{"condition":[{"test":"length(datum.a) >= 3","value":"M-1.45,-1H1.45V1H-1.45Z"},{"test":"length(datum.a) == 2","value":"M-1.07,-1H1.07V1H-1.07Z"}],"value":"M-0.8,-1H0.8V1H-0.8Z"}}},
  {"data":{"name":"alleles"},"transform":[{"filter":"datum.p == 3"}],"mark":{"type":"text","font":"Liberation Serif","fontSize":13,"color":"#222","dy":1},"encoding":{"x":{"field":"x","type":"quantitative","axis":null},"y":{"field":"row","type":"quantitative","axis":null},"text":{"field":"a"}}}]},
 {"width":658,"height":12,"data":{"values":[{}]},"mark":{"type":"text"},"encoding":{"text":{"value":""}}},
 {"width":658,"height":13,"view":{"stroke":"#555"},"data":{"name":"cols"},"layer":[
  {"transform":[{"filter":"datum.start > 0"}],"mark":{"type":"rule","color":"#999"},"encoding":{"x":{"field":"start","type":"quantitative","scale":{"domain":[0,1],"nice":false,"zero":false},"axis":null}}},
  {"mark":{"type":"text","align":"left","dx":3,"fontSize":10,"color":"#111"},"encoding":{"x":{"field":"start","type":"quantitative","scale":{"domain":[0,1],"nice":false,"zero":false},"axis":null},"text":{"field":"val"}}},
  {"transform":[{"filter":"datum.flag == 'pass'"},{"fold":["start","end"],"as":["edge","pos"]}],"mark":{"type":"square","color":"#22d822","filled":true,"opacity":1,"size":64},"encoding":{"x":{"field":"pos","aggregate":"mean","type":"quantitative","scale":{"domain":[0,1],"nice":false,"zero":false},"axis":null},"detail":{"field":"col"}}}]},
 {"width":658,"height":35,"layer":[
  {"data":{"values":[{}]},"mark":{"type":"rule","color":"#b8b8b8"},"encoding":{"x":{"datum":40.6,"type":"quantitative","scale":{"domain":[40.6,518.5],"nice":false,"zero":false},"axis":null}}},
  {"data":{"values":[{}]},"mark":{"type":"rule","color":"#b8b8b8"},"encoding":{"x":{"datum":518.5,"type":"quantitative","axis":null}}},
  {"data":{"name":"loci"},"transform":[{"filter":"datum.p == 4"}],"mark":{"type":"bar","fill":"#c3c3c3","stroke":"#7d7d7d","strokeWidth":1},"encoding":{"x":{"field":"start","type":"quantitative","axis":null},"x2":{"field":"end"},"y":{"field":"p","type":"nominal","scale":{"type":"band","paddingInner":0,"paddingOuter":0.958,"align":0.2},"axis":null}}},
  {"data":{"name":"loci"},"transform":[{"filter":"datum.p == 4"},{"fold":["start","end"],"as":["edge","pos"]}],"mark":{"type":"text","fontSize":11,"color":"#222"},"encoding":{"x":{"field":"pos","aggregate":"mean","type":"quantitative","axis":null},"y":{"field":"p","type":"nominal","axis":null},"text":{"field":"name"}}}]},
 {"width":658,"height":88,"layer":[
  {"data":{"values":[{}]},"mark":{"type":"rule","color":"#b8b8b8"},"encoding":{"x":{"datum":40.6,"type":"quantitative","scale":{"domain":[40.6,518.5],"nice":false,"zero":false},"axis":{"orient":"top","values":[80,120,160,200,240,280,320,360,400,440,480],"labelExpr":"datum.value % 80 == 0 ? datum.label : ''","format":"d","domain":false,"grid":false,"tickSize":3,"tickColor":"#777","labelFontSize":9,"labelColor":"#333","labelPadding":1,"title":null,"labelFlush":false,"labelOverlap":false}}}},
  {"data":{"values":[{}]},"mark":{"type":"rule","color":"#b8b8b8"},"encoding":{"x":{"datum":518.5,"type":"quantitative","axis":{"orient":"top","values":[80,120,160,200,240,280,320,360,400,440,480],"labelExpr":"datum.value % 80 == 0 ? datum.label : ''","format":"d","domain":false,"grid":false,"tickSize":3,"tickColor":"#777","labelFontSize":9,"labelColor":"#333","labelPadding":1,"title":null,"labelFlush":false,"labelOverlap":false}}}},
  {"data":{"name":"bins"},"transform":[{"filter":"datum.p == 4"}],"mark":{"type":"rule","color":"#cecece","strokeWidth":1},"encoding":{"x":{"field":"x","type":"quantitative","axis":{"orient":"top","values":[80,120,160,200,240,280,320,360,400,440,480],"labelExpr":"datum.value % 80 == 0 ? datum.label : ''","format":"d","domain":false,"grid":false,"tickSize":3,"tickColor":"#777","labelFontSize":9,"labelColor":"#333","labelPadding":1,"title":null,"labelFlush":false,"labelOverlap":false}}}},
  {"data":{"name":"trace"},"transform":[{"filter":"datum.p == 4"}],"mark":{"type":"rect","fillOpacity":0,"stroke":"#8c8c8c","strokeWidth":1},"encoding":{"x":{"field":"x","aggregate":"min","type":"quantitative","axis":{"orient":"top","values":[80,120,160,200,240,280,320,360,400,440,480],"labelExpr":"datum.value % 80 == 0 ? datum.label : ''","format":"d","domain":false,"grid":false,"tickSize":3,"tickColor":"#777","labelFontSize":9,"labelColor":"#333","labelPadding":1,"title":null,"labelFlush":false,"labelOverlap":false}},"x2":{"field":"x","aggregate":"max"}}},
  {"data":{"name":"trace"},"transform":[{"filter":"datum.p == 4"}],"mark":{"type":"line","color":"#e41e1e","strokeWidth":1.2,"clip":true},"encoding":{"x":{"field":"x","type":"quantitative","axis":{"orient":"top","values":[80,120,160,200,240,280,320,360,400,440,480],"labelExpr":"datum.value % 80 == 0 ? datum.label : ''","format":"d","domain":false,"grid":false,"tickSize":3,"tickColor":"#777","labelFontSize":9,"labelColor":"#333","labelPadding":1,"title":null,"labelFlush":false,"labelOverlap":false}},"y":{"field":"y","type":"quantitative","scale":{"domain":[-40,3140],"nice":false,"zero":false},"axis":{"orient":"left","offset":-52,"values":[0,266.67,533.33,800,1066.67,1333.33,1600,1866.67,2133.33,2400,2666.67,2933.33],"labelExpr":"datum.value % 800 == 0 ? datum.label : ''","format":"d","domain":false,"grid":false,"tickSize":{"condition":{"test":"datum.value % 800 == 0","value":4},"value":2},"tickColor":"#666","labelFontSize":9,"labelColor":"#333","labelPadding":2,"title":null,"labelOverlap":false,"labelFlush":false}}}},
  {"data":{"name":"alleles"},"transform":[{"filter":"datum.p == 4"}],"mark":{"type":"point","shape":"circle","size":14,"filled":false,"stroke":"#999","strokeWidth":0.8,"opacity":1},"encoding":{"x":{"field":"x","type":"quantitative","axis":{"orient":"top","values":[80,120,160,200,240,280,320,360,400,440,480],"labelExpr":"datum.value % 80 == 0 ? datum.label : ''","format":"d","domain":false,"grid":false,"tickSize":3,"tickColor":"#777","labelFontSize":9,"labelColor":"#333","labelPadding":1,"title":null,"labelFlush":false,"labelOverlap":false}},"y":{"datum":0,"type":"quantitative","axis":{"orient":"left","offset":-52,"values":[0,266.67,533.33,800,1066.67,1333.33,1600,1866.67,2133.33,2400,2666.67,2933.33],"labelExpr":"datum.value % 800 == 0 ? datum.label : ''","format":"d","domain":false,"grid":false,"tickSize":{"condition":{"test":"datum.value % 800 == 0","value":4},"value":2},"tickColor":"#666","labelFontSize":9,"labelColor":"#333","labelPadding":2,"title":null,"labelOverlap":false,"labelFlush":false}}}}]},
 {"width":658,"height":45,"layer":[
  {"data":{"values":[{}]},"mark":{"type":"rule","color":"#b8b8b8"},"encoding":{"x":{"datum":40.6,"type":"quantitative","scale":{"domain":[40.6,518.5],"nice":false,"zero":false},"axis":null}}},
  {"data":{"values":[{}]},"mark":{"type":"rule","color":"#b8b8b8"},"encoding":{"x":{"datum":518.5,"type":"quantitative","axis":null}}},
  {"data":{"values":[{}]},"mark":{"type":"rule","color":"#b8b8b8"},"encoding":{"y":{"datum":2.6,"type":"quantitative","scale":{"domain":[0.45,2.6],"reverse":true,"nice":false,"zero":false},"axis":null}}},
  {"data":{"name":"alleles"},"transform":[{"filter":"datum.p == 4"}],"mark":{"type":"rule","color":"#f29a9a","strokeWidth":1},"encoding":{"x":{"field":"x","type":"quantitative","axis":null},"y":{"field":"row","type":"quantitative","axis":null},"y2":{"datum":0.45}}},
  {"data":{"name":"alleles"},"transform":[{"filter":"datum.p == 4"}],"mark":{"type":"point","filled":true,"fill":"white","stroke":"#f29a9a","strokeWidth":1,"opacity":1,"size":225},"encoding":{"x":{"field":"x","type":"quantitative","axis":null},"y":{"field":"row","type":"quantitative","axis":null},"shape":{"condition":[{"test":"length(datum.a) >= 3","value":"M-1.45,-1H1.45V1H-1.45Z"},{"test":"length(datum.a) == 2","value":"M-1.07,-1H1.07V1H-1.07Z"}],"value":"M-0.8,-1H0.8V1H-0.8Z"}}},
  {"data":{"name":"alleles"},"transform":[{"filter":"datum.p == 4"}],"mark":{"type":"text","font":"Liberation Serif","fontSize":13,"color":"#222","dy":1},"encoding":{"x":{"field":"x","type":"quantitative","axis":null},"y":{"field":"row","type":"quantitative","axis":null},"text":{"field":"a"}}}]}
]
}
